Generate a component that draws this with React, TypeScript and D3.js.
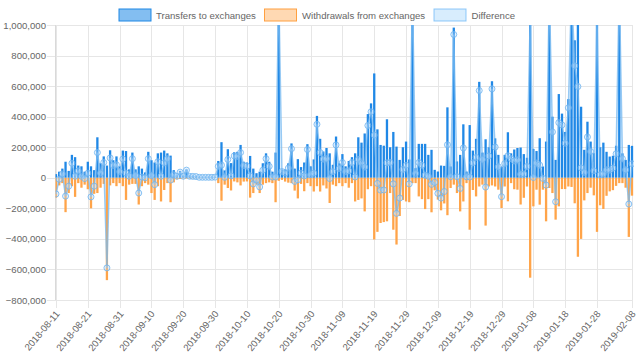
import React from 'react';
import * as d3 from 'd3';

// ---- data (values in thousands) ----
const startDate = '2018-08-11';
const dayCount = 182;
const seriesNames = ['Transfers to exchanges', 'Withdrawals from exchanges', 'Difference'];
const xTickLabels = [
  '2018-08-11', '2018-08-21', '2018-08-31', '2018-09-10', '2018-09-20', '2018-09-30',
  '2018-10-10', '2018-10-20', '2018-10-30', '2018-11-09', '2018-11-19', '2018-11-29',
  '2018-12-09', '2018-12-19', '2018-12-29', '2019-01-08', '2019-01-18', '2019-01-28', '2019-02-08',
];
const yTicks = [1000000, 800000, 600000, 400000, 200000, 0, -200000, -400000, -600000, -800000];

const transfers = [
  24, 40, 60, 105, 45, 150, 135, 80, 75, 40,
  105, 75, 50, 265, 95, 140, 80, 180, 115, 140,
  75, 178, 175, 55, 165, 55, 75, 60, 35, 170,
  115, 100, 160, 165, 178, 160, 145, 50, 20, 45,
  15, 55, 15, 12, 10, 5, 5, 4, 4, 4,
  5, 110, 233, 48, 187, 96, 167, 170, 215, 105,
  100, 143, 60, 30, 40, 95, 160, 105, 40, 165,
  1250, 55, 55, 95, 225, 60, 122, 70, 100, 220,
  75, 120, 405, 255, 172, 195, 160, 85, 270, 95,
  155, 75, 110, 135, 160, 265, 230, 290, 417, 487,
  683, 317, 215, 210, 383, 200, 300, 204, 117, 200,
  237, 120, 1250, 63, 222, 222, 222, 150, 183, 52,
  41, 80, 78, 461, 74, 983, 107, 150, 350, 41,
  345, 178, 255, 628, 165, 252, 200, 632, 258, 150,
  74, 150, 298, 160, 185, 195, 198, 155, 131, 1700,
  189, 175, 259, 74, 237, 1300, 400, 117, 548, 420,
  300, 515, 1300, 900, 1114, 465, 183, 367, 237, 161,
  1400, 200, 230, 170, 139, 144, 210, 1300, 160, 117,
  215, 209,
];
const withdrawals = [
  -130, -50, -35, -225, -100, -55, -125, -35, -65, -45,
  -75, -200, -105, -100, -65, -40, -670, -50, -35, -55,
  -35, -55, -145, -45, -40, -40, -175, -55, -35, -45,
  -100, -145, -55, -155, -80, -35, -160, -30, -10, -8,
  -5, -5, -5, -3, -2, -2, -2, -1, -1, -1,
  -1, -35, -150, -45, -67, -83, -24, -30, -50, -25,
  -24, -130, -100, -45, -100, -45, -35, -30, -35, -160,
  -20, -14, -25, -32, -35, -84, -135, -40, -88, -35,
  -55, -90, -55, -90, -50, -70, -165, -45, -55, -35,
  -55, -35, -65, -35, -155, -145, -135, -220, -75, -55,
  -404, -354, -296, -290, -285, -100, -340, -437, -250, -145,
  -155, -160, -35, -35, -122, -140, -205, -140, -226, -82,
  -143, -213, -168, -245, -67, -45, -100, -220, -155, -35,
  -340, -80, -122, -57, -45, -313, -57, -50, -57, -78,
  -198, -57, -154, -35, -75, -78, -175, -131, -57, -654,
  -187, -78, -176, -78, -285, -67, -100, -274, -187, -74,
  -74, -57, -60, -167, -517, -400, -148, -100, -65, -115,
  -354, -180, -204, -118, -89, -81, -53, -35, -35, -65,
  -387, -117,
];
const difference = [
  -106, -10, 25, -120, -55, 95, 10, 45, 10, -5,
  30, -125, -55, 165, 30, 100, -590, 130, 80, 85,
  40, 123, 30, 10, 125, 15, -100, 5, 0, 125,
  15, -45, 105, 10, 98, 125, -15, 20, 10, 37,
  10, 50, 10, 9, 8, 3, 3, 3, 3, 3,
  4, 75, 83, 3, 120, 13, 143, 140, 165, 80,
  76, 13, -40, -15, -60, 50, 125, 75, 5, 5,
  1230, 41, 30, 63, 190, -24, -13, 30, 12, 185,
  20, 30, 350, 165, 122, 125, -5, 40, 215, 60,
  100, 40, 45, 100, 5, 120, 95, 70, 342, 432,
  279, -37, -81, -80, 98, 100, -40, -233, -133, 55,
  82, -40, 1215, 28, 100, 82, 17, 10, -43, -30,
  -102, -133, -90, 216, 7, 938, 7, -70, 195, 6,
  5, 98, 133, 571, 120, -61, 143, 582, 201, 72,
  -124, 93, 144, 125, 110, 117, 23, 24, 74, 1046,
  2, 97, 83, -4, -48, 1233, 300, -157, 361, 346,
  226, 458, 1240, 733, 597, 65, 35, 267, 172, 46,
  1046, 20, 26, 52, 50, 63, 157, 1265, 125, 52,
  -172, 92,
];

const UNIT = 1000;
const FONT = '"Liberation Sans", Arial, Helvetica, sans-serif';

export default function App() {
  const W = 640;
  const H = 361;
  const left = 55.5;
  const right = 632;
  const top = 25;
  const bottom = 300;

  const parse = d3.timeParse('%Y-%m-%d');
  const fmt = d3.timeFormat('%Y-%m-%d');
  const start = parse(startDate) as Date;
  const labels = d3.range(dayCount).map((i) => fmt(d3.timeDay.offset(start, i)));

  const x = d3.scalePoint<string>().domain(labels).range([56, right]);
  const y = d3.scaleLinear().domain([-800000, 1000000]).range([bottom, top]);
  const yFmt = d3.format(',');
  const bw = 2.3;

  const pts = labels.map((l, i) => ({ x: x(l) as number, v: difference[i] * UNIT }));
  const line = d3.line<{ x: number; v: number }>().x((d) => d.x).y((d) => y(d.v));
  const area = d3
    .area<{ x: number; v: number }>()
    .x((d) => d.x)
    .y0(y(0))
    .y1((d) => y(d.v));

  const legendItems = [
    { name: seriesNames[0], bx: 119, tx: 156, fill: 'rgba(30,136,229,0.55)', stroke: '#1E88E5' },
    { name: seriesNames[1], bx: 264.5, tx: 302, fill: 'rgba(255,160,64,0.4)', stroke: '#FFA040' },
    { name: seriesNames[2], bx: 434, tx: 471.5, fill: 'rgba(144,202,249,0.35)', stroke: 'rgba(100,181,246,0.7)' },
  ];

  return (
    <svg
      width={W}
      height={H}
      style={{ position: 'absolute', left: 0, top: 0, background: '#fff' }}
      fontFamily={FONT}
    >
      <defs>
        <clipPath id="plot">
          <rect x={left} y={top} width={right - left + 2} height={bottom - top} />
        </clipPath>
      </defs>

      {/* legend */}
      {legendItems.map((it) => (
        <g key={it.name}>
          <rect x={it.bx} y={9} width={32} height={12} fill={it.fill} stroke={it.stroke} strokeWidth={1} />
          <text x={it.tx} y={15} fontSize={9.6} fill="#666" dominantBaseline="central">
            {it.name}
          </text>
        </g>
      ))}

      {/* horizontal grid + y labels */}
      {yTicks.map((t) => (
        <g key={t}>
          <line x1={47} x2={right} y1={Math.round(y(t)) + 0.5} y2={Math.round(y(t)) + 0.5} stroke="#e6e6e6" />
          <text x={46} y={y(t)} fontSize={9.6} fill="#666" textAnchor="end" dominantBaseline="central">
            {yFmt(t)}
          </text>
        </g>
      ))}

      {/* vertical grid + x labels */}
      {xTickLabels.map((l) => {
        const px = Math.round(x(l) as number) + 0.5;
        return (
          <g key={l}>
            <line x1={px} x2={px} y1={top} y2={bottom + 8} stroke="#e6e6e6" />
            <text
              transform={`translate(${px + 1},${bottom + 12}) rotate(-50)`}
              fontSize={9.6}
              fill="#666"
              textAnchor="end"
              dominantBaseline="central"
            >
              {l}
            </text>
          </g>
        );
      })}
      <line x1={left} x2={left} y1={top} y2={bottom} stroke="#d9d9d9" />

      <g clipPath="url(#plot)">
        {/* difference area */}
        <path d={area(pts) || ''} fill="rgba(187,222,251,0.45)" />

        {/* bars */}
        {labels.map((l, i) => {
          const cx = x(l) as number;
          const yt = y(transfers[i] * UNIT);
          const yw = y(withdrawals[i] * UNIT);
          return (
            <g key={l}>
              <rect x={cx - bw / 2} y={yt} width={bw} height={Math.max(0, y(0) - yt)} fill="#2088E6" />
              <rect x={cx - bw / 2} y={y(0)} width={bw} height={Math.max(0, yw - y(0))} fill="#FFA449" />
            </g>
          );
        })}

        {/* difference line + points */}
        <path d={line(pts) || ''} fill="none" stroke="rgba(120,186,240,0.75)" strokeWidth={1.5} />
        {pts.map((p, i) => (
          <circle
            key={i}
            cx={p.x}
            cy={y(p.v)}
            r={3}
            fill="rgba(187,222,251,0.35)"
            stroke="rgba(110,180,240,0.8)"
            strokeWidth={1}
          />
        ))}
      </g>
    </svg>
  );
}
